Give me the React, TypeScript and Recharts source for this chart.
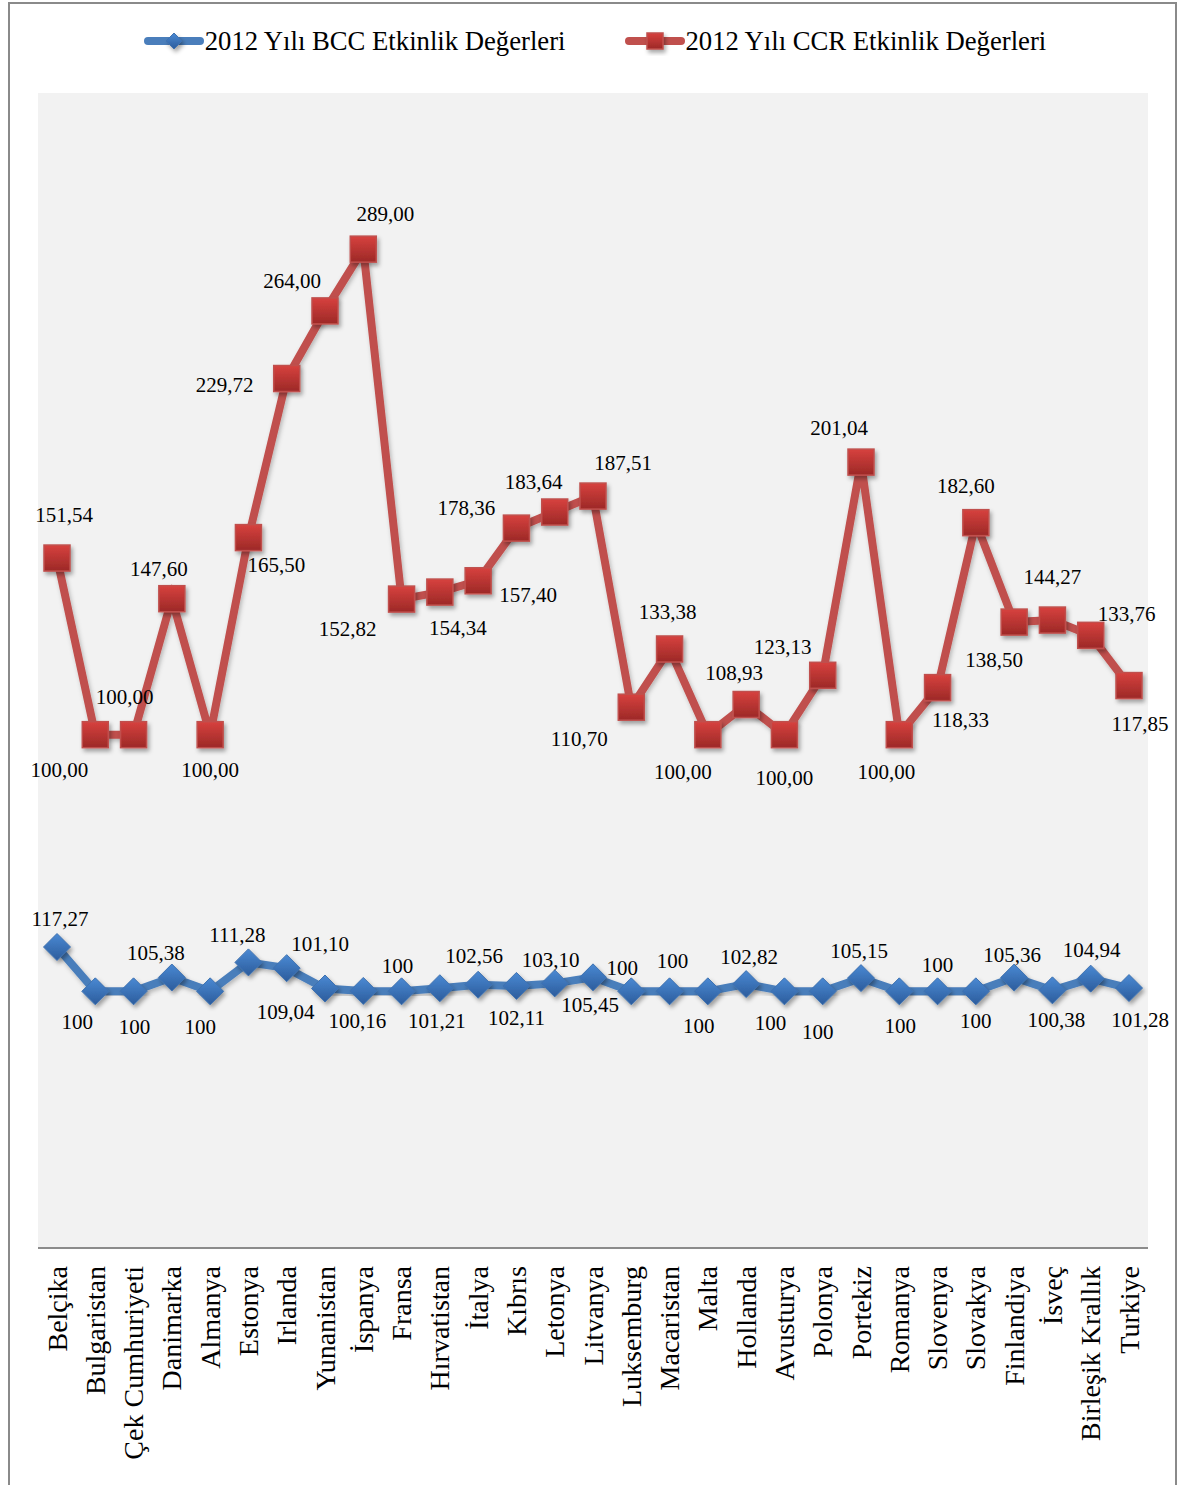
import * as React from 'react'
import {
  ComposedChart,
  Area,
  XAxis,
  YAxis,
  CartesianGrid,
  Legend,
  LabelList,
} from 'recharts'

const countries = [
  'Belçika', 'Bulgaristan', 'Çek Cumhuriyeti', 'Danimarka', 'Almanya', 'Estonya',
  'Irlanda', 'Yunanistan', 'İspanya', 'Fransa', 'Hırvatistan', 'İtalya', 'Kıbrıs',
  'Letonya', 'Litvanya', 'Luksemburg', 'Macaristan', 'Malta', 'Hollanda', 'Avusturya',
  'Polonya', 'Portekiz', 'Romanya', 'Slovenya', 'Slovakya', 'Finlandiya', 'İsveç',
  'Birleşik Krallık', 'Turkiye',
]

const bccValues = [
  117.27, 100, 100, 105.38, 100, 111.28, 109.04, 101.1, 100.16, 100, 101.21, 102.56,
  102.11, 103.1, 105.45, 100, 100, 100, 102.82, 100, 100, 105.15, 100, 100, 100,
  105.36, 100.38, 104.94, 101.28,
]

const ccrValues = [
  151.54, 100, 100, 147.6, 100, 165.5, 229.72, 264, 289, 152.82, 154.34, 157.4,
  178.36, 183.64, 187.51, 110.7, 133.38, 100, 108.93, 100, 123.13, 201.04, 100,
  118.33, 182.6, 138.5, 144.27, 133.76, 117.85,
]

const seriesNames = ['2012 Yılı BCC Etkinlik Değerleri', '2012 Yılı CCR Etkinlik Değerleri']

// label centre offsets from each marker, as placed in the original
const bccLabelOffsets: Array<[number, number]> = [
  [3, -28], [-18, 31], [1, 36], [-16, -25], [-10, 36], [-11, -27], [-1, 44], [-5, -45],
  [-6, 30], [-4, -25], [-3, 33], [-4, -29], [0, 32], [-4, -23], [-3, 28], [-9, -23],
  [3, -30], [-9, 35], [3, -27], [-14, 32], [-5, 41], [-2, -27], [1, 35], [0, -26],
  [0, 30], [-2, -23], [4, 30], [1, -29], [11, 32],
]

const ccrLabelOffsets: Array<[number, number]> = [
  [7, -43], [-36, 35], [-9, -38], [-13, -30], [0, 35], [28, 27], [-62, 6], [-33, -30],
  [22, -35], [-54, 30], [18, 36], [50, 14], [-50, -20], [-21, -30], [30, -33], [-52, 32],
  [-2, -37], [-25, 37], [-12, -32], [0, 43], [-40, -28], [-22, -34], [-13, 37], [23, 32],
  [-10, -37], [-20, 38], [0, -43], [36, -21], [11, 38],
]

const FONT = '"Liberation Serif", "Times New Roman", serif'
const BLUE = '#4a7ebb'
const RED = '#c0504d'

const fmtCcr = (v: number) => v.toFixed(2).replace('.', ',')
const fmtBcc = (v: number) => (Number.isInteger(v) ? String(v) : v.toFixed(2).replace('.', ','))

const rows = countries.map((name, i) => ({ name, bcc: bccValues[i], ccr: ccrValues[i] }))

function Diamond({ cx, cy, r = 13.5 }: { cx: number; cy: number; r?: number }) {
  return (
    <polygon
      points={`${cx},${cy - r} ${cx + r},${cy} ${cx},${cy + r} ${cx - r},${cy}`}
      fill='url(#bccFill)'
      stroke='#3f72b0'
      strokeWidth={1}
      filter='url(#markShadow)'
    />
  )
}

function Square({ cx, cy, s = 13 }: { cx: number; cy: number; s?: number }) {
  return (
    <rect
      x={cx - s}
      y={cy - s}
      width={s * 2}
      height={s * 2}
      fill='url(#ccrFill)'
      stroke={RED}
      strokeWidth={1.5}
      filter='url(#markShadow)'
    />
  )
}

function makeLabel(offsets: Array<[number, number]>, values: number[], fmt: (v: number) => string) {
  return (props: any) => {
    const { index } = props
    const px = props.x ?? props.viewBox?.x
    const py = props.y ?? props.viewBox?.y
    const [dx, dy] = offsets[index]
    return (
      <text
        key={index}
        x={px + dx}
        y={py + dy}
        textAnchor='middle'
        dominantBaseline='central'
        fontSize={21}
        fontFamily={FONT}
        fill='#000'
      >
        {fmt(values[index])}
      </text>
    )
  }
}

function CountryTick(props: any) {
  const { x, y, payload } = props
  const ty = y + 18
  return (
    <text
      x={x}
      y={ty}
      transform={`rotate(-90 ${x} ${ty})`}
      textAnchor='end'
      dy='0.34em'
      fontSize={28}
      fontFamily={FONT}
      fill='#000'
    >
      {payload.value}
    </text>
  )
}

function LegendContent() {
  return (
    <div
      style={{
        display: 'flex',
        justifyContent: 'center',
        gap: 58,
        paddingLeft: 10,
        fontFamily: FONT,
        fontSize: 26.7,
        lineHeight: '30px',
        color: '#000',
      }}
    >
      {seriesNames.map((name, i) => (
        <div key={name} style={{ display: 'flex', alignItems: 'center' }}>
          <svg width={62} height={30}>
            <line
              x1={5}
              y1={15}
              x2={57}
              y2={15}
              stroke={i === 0 ? BLUE : RED}
              strokeWidth={8}
              strokeLinecap='round'
            />
            {i === 0 ? <Diamond cx={31} cy={15} r={8} /> : <Square cx={31} cy={15} s={8} />}
          </svg>
          <span>{name}</span>
        </div>
      ))}
    </div>
  )
}

export default function App() {
  return (
    <div
      style={{
        position: 'absolute',
        left: 0,
        top: 0,
        width: 1179,
        height: 1485,
        overflow: 'hidden',
        background: '#fff',
      }}
    >
      <style>{'.recharts-area-curve{filter:url(#lineShadow)}'}</style>
      <svg width={0} height={0} style={{ position: 'absolute' }}>
        <defs>
          <linearGradient id='bccFill' x1='0' y1='0' x2='0' y2='1'>
            <stop offset='0%' stopColor='#4a89d3' />
            <stop offset='100%' stopColor='#2c5c9c' />
          </linearGradient>
          <linearGradient id='ccrFill' x1='0' y1='0' x2='0' y2='1'>
            <stop offset='0%' stopColor='#d7413e' />
            <stop offset='100%' stopColor='#9c2927' />
          </linearGradient>
          <filter id='markShadow' x='-50%' y='-50%' width='200%' height='200%'>
            <feDropShadow dx='2' dy='3' stdDeviation='2' floodColor='#000' floodOpacity='0.35' />
          </filter>
          <filter id='lineShadow' x='-10%' y='-10%' width='120%' height='120%'>
            <feDropShadow dx='1.5' dy='2.5' stdDeviation='2' floodColor='#000' floodOpacity='0.25' />
          </filter>
        </defs>
      </svg>
      <div
        style={{
          position: 'absolute',
          left: 8,
          top: 2,
          width: 1169,
          height: 1500,
          border: '2px solid #8a8a8a',
          boxSizing: 'border-box',
        }}
      />
      <div style={{ position: 'absolute', left: 0, top: 0 }}>
        <ComposedChart
          width={1179}
          height={1485}
          data={rows}
          margin={{ top: 93, right: 31, left: 38, bottom: 0 }}
        >
          <CartesianGrid fill='#f2f2f2' stroke='none' horizontal={false} vertical={false} />
          <XAxis
            dataKey='name'
            type='category'
            interval={0}
            height={237}
            padding={{ left: 19, right: 19 }}
            tickSize={0}
            tickMargin={0}
            tickLine={false}
            axisLine={{ stroke: '#8c8c8c', strokeWidth: 2 }}
            tick={<CountryTick />}
          />
          <YAxis hide type='number' domain={[0, 450]} />
          <Legend
            verticalAlign='middle'
            align='center'
            wrapperStyle={{ top: 26, left: 0, width: 1179 }}
            content={<LegendContent />}
          />
          <Area
            type='linear'
            dataKey='bcc'
            stackId='etk'
            name={seriesNames[0]}
            stroke={BLUE}
            strokeWidth={8}
            fill='none'
            dot={(p: any) => <Diamond key={`b${p.index}`} cx={p.cx} cy={p.cy} />}
            activeDot={false}
            isAnimationActive={false}
          >
            <LabelList content={makeLabel(bccLabelOffsets, bccValues, fmtBcc)} />
          </Area>
          <Area
            type='linear'
            dataKey='ccr'
            stackId='etk'
            name={seriesNames[1]}
            stroke={RED}
            strokeWidth={8}
            fill='none'
            dot={(p: any) => <Square key={`c${p.index}`} cx={p.cx} cy={p.cy} />}
            activeDot={false}
            isAnimationActive={false}
          >
            <LabelList content={makeLabel(ccrLabelOffsets, ccrValues, fmtCcr)} />
          </Area>
        </ComposedChart>
      </div>
    </div>
  )
}
